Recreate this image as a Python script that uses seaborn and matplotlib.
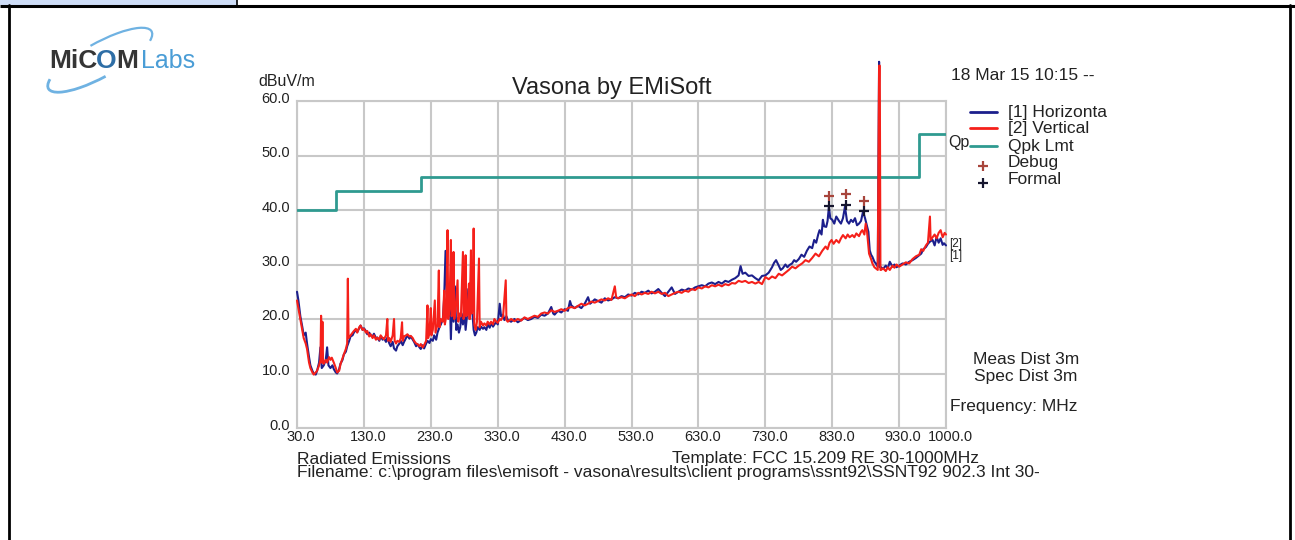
#!/usr/bin/env python3
# plot.py - radiated emissions scan (Vasona style) recreated with seaborn

import matplotlib

matplotlib.use("Agg")
import matplotlib.pyplot as plt
import matplotlib.transforms as mtransforms
from matplotlib.patches import Arc, Rectangle
import seaborn as sns

sns.set_theme(style="white")
plt.rcParams["font.family"] = ["Liberation Sans", "DejaVu Sans"]

# ---- data ------------------------------------------------------------------
h_freq = [30, 32, 35, 38, 40, 43, 45, 48, 50, 53, 55, 58, 60, 63, 65, 67, 70, 73, 75, 77,
          80, 83, 85, 88, 90, 93, 95, 98, 100, 103, 105, 108, 110, 113, 115, 118, 120, 123,
          125, 128, 130, 133, 135, 138, 140, 143, 145, 148, 150, 153, 155, 158, 160, 163,
          165, 168, 170, 173, 175, 178, 180, 183, 185, 188, 190, 193, 195, 198, 200, 203,
          205, 208, 210, 213, 215, 218, 220, 223, 225, 228, 230, 233, 235, 238, 240, 243,
          245, 248, 250, 252, 254, 256, 258, 260, 262, 264, 266, 268, 270, 272, 274, 276,
          278, 280, 282, 284, 286, 288, 290, 292, 294, 296, 298, 300, 303, 305, 308, 310,
          313, 315, 318, 320, 323, 325, 328, 330, 333, 335, 338, 340, 343, 345, 350, 355,
          360, 365, 370, 375, 380, 385, 390, 395, 400, 405, 410, 413, 415, 420, 425, 430,
          435, 438, 440, 445, 450, 455, 460, 465, 468, 470, 475, 480, 485, 490, 495, 500,
          505, 510, 515, 520, 525, 530, 535, 540, 545, 550, 555, 560, 565, 570, 575, 580,
          585, 590, 595, 600, 605, 610, 615, 620, 625, 630, 635, 640, 645, 650, 655, 660,
          665, 670, 675, 680, 685, 690, 693, 696, 700, 705, 710, 715, 720, 725, 730, 735,
          740, 743, 746, 750, 753, 756, 760, 763, 766, 770, 773, 776, 780, 784, 788, 792,
          796, 800, 803, 806, 809, 811, 814, 816, 818, 821, 823, 825, 827, 830, 833, 836,
          840, 843, 846, 849, 852, 855, 858, 861, 864, 867, 870, 873, 876, 879, 882, 884,
          886, 888, 890, 893, 895, 898, 900, 901, 903, 906, 910, 913, 916, 920, 923, 926,
          930, 935, 940, 945, 950, 955, 960, 963, 966, 970, 973, 976, 980, 983, 986, 989,
          992, 995, 997, 1000]
h_level = [25.0, 23.5, 20.5, 18.5, 17.0, 17.5, 15.5, 13.0, 11.5, 10.5, 10.0, 9.8, 10.5, 12.0,
           14.8, 11.0, 11.5, 12.5, 14.8, 11.5, 11.0, 11.5, 10.8, 10.2, 10.0, 10.8, 11.8, 12.5,
           13.5, 14.0, 15.0, 16.0, 16.8, 17.0, 17.5, 18.0, 17.6, 18.3, 18.8, 18.0, 18.3, 17.8,
           17.2, 17.5, 17.0, 16.8, 17.3, 16.5, 16.6, 16.0, 16.8, 16.2, 16.5, 15.8, 16.6, 15.5,
           15.0, 15.8, 14.6, 14.2, 15.0, 15.5, 16.0, 15.2, 15.8, 16.5, 17.0, 16.4, 16.8, 16.2,
           15.8, 15.0, 15.4, 14.8, 14.5, 15.2, 14.6, 15.5, 16.0, 15.6, 16.3, 16.0, 17.0, 16.2,
           17.5, 18.5, 19.0, 20.0, 24.0, 32.5, 25.0, 20.5, 26.0, 16.3, 25.0, 19.5, 26.0, 18.0,
           19.0, 17.5, 18.5, 21.0, 19.0, 21.5, 18.0, 20.5, 25.5, 20.0, 26.5, 21.5, 18.0, 17.0,
           17.5, 18.5, 18.0, 18.6, 18.2, 18.5, 18.0, 19.0, 18.4, 19.2, 18.6, 19.0, 19.5, 19.0,
           22.8, 20.5, 20.8, 19.8, 20.5, 19.8, 19.5, 20.0, 19.4, 19.8, 20.2, 19.8, 20.0, 20.4,
           20.2, 20.8, 20.6, 21.0, 22.2, 21.0, 20.8, 21.5, 21.2, 21.8, 21.5, 23.3, 22.5, 22.0,
           22.4, 22.0, 22.8, 24.0, 22.8, 23.0, 23.6, 23.3, 23.0, 23.8, 23.4, 23.6, 24.0, 23.8,
           24.2, 24.0, 24.5, 24.3, 24.8, 24.5, 25.0, 24.8, 25.2, 24.7, 25.0, 25.5, 24.8, 24.2,
           25.0, 25.8, 24.6, 25.0, 25.4, 25.2, 25.6, 25.4, 25.8, 26.0, 26.2, 26.0, 26.5, 26.7,
           26.4, 26.8, 26.5, 27.0, 26.8, 27.2, 27.5, 28.0, 29.7, 28.3, 28.5, 27.9, 28.0, 27.5,
           27.1, 27.9, 28.0, 28.5, 29.5, 30.3, 30.8, 29.8, 29.0, 29.3, 30.0, 29.5, 29.9, 30.2,
           30.8, 30.5, 31.0, 31.8, 31.4, 32.5, 33.3, 33.0, 34.5, 34.0, 35.5, 36.3, 35.5, 38.2,
           37.0, 36.9, 38.0, 40.6, 38.5, 38.2, 37.5, 38.8, 38.0, 37.5, 38.5, 40.6, 38.0, 37.5,
           38.2, 37.8, 38.5, 37.2, 37.5, 38.0, 39.7, 38.5, 37.0, 36.0, 32.6, 31.8, 31.4, 30.5,
           30.2, 29.6, 67.2, 29.5, 29.5, 29.2, 29.8, 29.3, 30.5, 29.6, 30.0, 29.5, 29.8, 30.2,
           30.0, 30.5, 30.8, 31.2, 31.7, 32.0, 32.8, 33.2, 33.8, 34.2, 34.5, 33.5, 35.1, 34.0,
           34.8, 33.6, 33.9, 33.5]

v_freq = [30, 32, 35, 38, 40, 43, 45, 48, 50, 53, 55, 58, 60, 63, 65, 66, 67, 68, 69, 70,
          73, 75, 78, 80, 82, 85, 88, 90, 93, 95, 98, 100, 103, 105, 106, 107, 110, 113, 115,
          118, 120, 123, 125, 128, 130, 133, 135, 138, 140, 143, 145, 148, 150, 153, 155, 158,
          160, 163, 165, 166, 168, 170, 173, 175, 176, 178, 180, 183, 185, 187, 188, 190, 193,
          195, 198, 200, 203, 205, 208, 210, 213, 215, 218, 220, 223, 225, 226, 228, 230, 231,
          233, 236, 237, 240, 242, 243, 245, 248, 250, 251, 253, 255, 256, 258, 260, 261, 263,
          264, 265, 267, 270, 271, 273, 275, 278, 279, 281, 282, 283, 285, 287, 288, 290, 291,
          293, 294, 295, 297, 299, 302, 303, 305, 308, 310, 313, 315, 318, 320, 323, 325, 328,
          330, 333, 335, 338, 342, 343, 345, 350, 355, 360, 365, 370, 375, 380, 385, 390, 395,
          400, 405, 410, 415, 420, 425, 430, 435, 440, 445, 450, 455, 460, 465, 470, 475, 480,
          485, 490, 495, 500, 505, 507, 510, 515, 520, 525, 530, 535, 540, 545, 550, 555, 560,
          565, 570, 575, 580, 585, 590, 595, 600, 605, 610, 615, 620, 625, 630, 635, 640, 645,
          650, 655, 660, 665, 670, 675, 680, 685, 690, 695, 700, 705, 710, 715, 720, 725, 730,
          735, 740, 745, 750, 755, 760, 765, 770, 775, 780, 785, 790, 795, 800, 805, 810, 815,
          820, 823, 826, 829, 832, 836, 840, 843, 846, 850, 853, 856, 860, 863, 866, 870, 873,
          875, 878, 880, 882, 885, 888, 890, 893, 895, 898, 900, 901, 902, 903, 906, 910, 913,
          916, 920, 923, 926, 930, 935, 940, 945, 950, 955, 960, 963, 966, 970, 973, 976, 977,
          980, 983, 986, 989, 992, 995, 998, 1000]
v_level = [23.4, 22.0, 20.0, 17.8, 16.5, 15.5, 14.5, 12.0, 11.0, 10.2, 9.8, 10.2, 10.5, 11.5,
           12.5, 20.6, 12.0, 19.5, 12.0, 11.8, 12.5, 12.0, 13.0, 12.5, 12.9, 12.0, 11.0, 10.2,
           10.5, 11.7, 12.8, 13.5, 14.5, 15.5, 27.4, 16.5, 17.0, 17.5, 17.8, 18.2, 17.5, 18.5,
           18.8, 18.0, 18.2, 17.5, 17.8, 16.8, 17.2, 16.5, 17.0, 16.2, 16.6, 16.2, 17.0, 16.5,
           16.3, 17.0, 20.0, 16.0, 16.5, 15.8, 17.0, 20.0, 16.0, 15.5, 16.0, 15.8, 16.5, 19.4,
           16.0, 16.8, 17.0, 17.2, 16.8, 16.9, 16.5, 16.0, 15.5, 15.4, 15.0, 15.4, 14.8, 15.2,
           16.0, 22.5, 16.5, 17.5, 22.0, 17.0, 18.0, 23.4, 17.5, 19.0, 28.9, 18.5, 20.0, 19.5,
           25.2, 19.0, 20.5, 36.3, 20.0, 22.0, 34.5, 20.5, 21.0, 32.3, 20.0, 21.5, 27.1, 19.5,
           21.0, 20.5, 32.3, 20.0, 22.0, 31.7, 20.5, 21.0, 26.5, 20.0, 32.6, 21.0, 22.0, 36.6,
           19.0, 18.0, 19.5, 31.1, 18.5, 19.5, 18.8, 19.2, 18.8, 19.5, 19.0, 19.5, 19.0, 20.0,
           19.5, 19.3, 20.0, 19.8, 20.5, 27.1, 19.8, 19.5, 20.0, 19.6, 20.0, 19.7, 20.3, 20.0,
           20.3, 20.6, 20.4, 21.0, 21.2, 21.0, 21.6, 21.3, 21.5, 21.8, 21.5, 22.0, 22.2, 22.0,
           22.4, 22.8, 22.5, 22.8, 23.2, 23.0, 23.3, 23.6, 23.4, 23.8, 23.5, 26.0, 24.0, 23.8,
           24.0, 23.8, 24.2, 24.5, 24.2, 24.8, 24.5, 24.8, 24.6, 25.0, 24.7, 25.0, 24.6, 24.8,
           24.2, 24.5, 24.8, 25.0, 24.8, 25.2, 25.0, 25.5, 25.3, 25.8, 25.6, 26.0, 25.8, 26.2,
           26.0, 26.3, 26.0, 26.4, 26.2, 26.6, 26.5, 27.0, 26.8, 27.0, 26.6, 26.8, 26.5, 26.8,
           26.4, 27.7, 27.3, 27.8, 27.5, 28.3, 28.0, 28.5, 29.0, 29.6, 29.3, 29.8, 30.2, 30.8,
           30.5, 31.2, 32.0, 31.5, 32.5, 33.3, 32.8, 34.0, 34.5, 33.8, 34.5, 34.0, 34.8, 35.4,
           34.8, 35.5, 35.0, 35.4, 35.0, 35.7, 35.2, 36.0, 36.3, 35.5, 37.5, 36.0, 32.0, 31.0,
           30.2, 29.5, 29.3, 29.0, 66.5, 66.5, 29.0, 29.0, 29.3, 28.8, 29.5, 29.0, 29.8, 29.4,
           30.0, 29.6, 30.0, 30.4, 30.2, 31.0, 31.5, 31.8, 32.8, 32.5, 33.5, 34.0, 38.8, 34.5,
           35.0, 35.5, 34.8, 35.8, 36.3, 35.0, 35.8, 35.5]

# quasi-peak limit, FCC 15.209 @ 3 m (step changes)
lim_freq = [30, 88, 216, 960, 1000]
lim_level = [40.0, 43.5, 46.0, 54.0, 54.0]

# peak markers
debug_freq = [825, 850, 877]
debug_level = [42.6, 42.9, 41.7]
formal_freq = [825, 850, 877]
formal_level = [40.7, 40.9, 39.8]

x_ticks = [30, 130, 230, 330, 430, 530, 630, 730, 830, 930, 1000]
y_ticks = [0, 10, 20, 30, 40, 50, 60]

# ---- colours ----------------------------------------------------------------
BLUE = "#1c1f8c"
RED = "#f5201a"
TEAL = "#2f9a90"
GRID = "#c8c8c8"
TXT = "#222222"

W, H = 1295, 540
fig = plt.figure(figsize=(W / 100, H / 100), dpi=100)
fig.patch.set_facecolor("white")

# main plot area (pixel box 297..946 x 101..428)
ax = fig.add_axes([297 / W, 1 - 428 / H, (946 - 297) / W, (428 - 101) / H])
ax.set_facecolor("white")

sns.lineplot(x=lim_freq, y=lim_level, ax=ax, color=TEAL, lw=2.0,
             drawstyle="steps-post", estimator=None, sort=False, zorder=3)
sns.lineplot(x=h_freq, y=h_level, ax=ax, color=BLUE, lw=1.5,
             estimator=None, sort=False, zorder=4, clip_on=False)
sns.lineplot(x=v_freq, y=v_level, ax=ax, color=RED, lw=1.5,
             estimator=None, sort=False, zorder=5, clip_on=False)
sns.scatterplot(x=debug_freq, y=debug_level, ax=ax, marker="+", color="#a8453c",
                s=55, linewidth=1.6, zorder=6)
sns.scatterplot(x=formal_freq, y=formal_level, ax=ax, marker="+", color="#15152e",
                s=55, linewidth=1.6, zorder=6)

ax.set_xlim(30, 1000)
ax.set_ylim(0, 60)
ax.set_xticks(x_ticks)
ax.set_xticklabels([f"{t:.1f}" for t in x_ticks])
ax.set_yticks(y_ticks)
ax.set_yticklabels([f"{t:.1f}" for t in y_ticks])
ax.set_xlabel("")
ax.set_ylabel("")
ax.grid(True, color=GRID, lw=1.5)
ax.set_axisbelow(True)
for sp in ax.spines.values():
    sp.set_color(GRID)
    sp.set_linewidth(1.5)
ax.tick_params(axis="both", length=0, labelsize=10.5, labelcolor=TXT)
ax.tick_params(axis="x", pad=1.5)
ax.tick_params(axis="y", pad=5)
# labels in the original sit a little right / above their gridlines
for lab in ax.get_xticklabels():
    lab.set_transform(lab.get_transform() + mtransforms.ScaledTranslation(4 / 100, 0, fig.dpi_scale_trans))
for lab in ax.get_yticklabels():
    lab.set_transform(lab.get_transform() + mtransforms.ScaledTranslation(0, 4 / 100, fig.dpi_scale_trans))

# ---- overlay in pixel coordinates for page furniture and captions ----------
deco = fig.add_axes([0, 0, 1, 1], zorder=10)
deco.set_xlim(0, W)
deco.set_ylim(H, 0)
deco.axis("off")
deco.patch.set_alpha(0)

# page frame / table cell
deco.add_patch(Rectangle((0, 0), 237, 5, facecolor="#cddcf6", edgecolor="none"))
deco.plot([0, W], [5.5, 5.5], color="black", lw=2.2, solid_capstyle="butt")
deco.plot([237, 237], [0, 5.5], color="black", lw=1.2)
deco.plot([8.5, 8.5], [5, H], color="black", lw=2.0)
deco.plot([1290, 1290], [5, H], color="black", lw=2.0)

# logo: swoosh (two ends of a tilted ellipse) + wordmark
deco.add_patch(Arc((100, 60), 118, 34, angle=-29, theta1=100, theta2=188,
                   color="#6fb2e2", lw=2.0))
deco.add_patch(Arc((100, 60), 118, 34, angle=-29, theta1=-95, theta2=8,
                   color="#6fb2e2", lw=1.6))
deco.text(49, 68, "MiC", fontsize=19, weight="bold", color="#353535", va="baseline")
deco.text(96, 68, "O", fontsize=19, weight="bold", color="#2e6ea6", va="baseline")
deco.text(116, 68, "M", fontsize=19, weight="bold", color="#353535", va="baseline")
deco.text(141, 68, "Labs", fontsize=18, color="#4a9dd6", va="baseline")

# chart captions
deco.text(258, 82, "dBuV/m", fontsize=11.5, color=TXT, va="center")
deco.text(612, 88, "Vasona by EMiSoft", fontsize=17, color=TXT, ha="center", va="center")
deco.text(951, 76, "18 Mar 15 10:15 --", fontsize=12.5, color=TXT, va="center")

# legend
leg = [("[1] Horizonta", BLUE, 112), ("[2] Vertical", RED, 128), ("Qpk Lmt", TEAL, 146)]
for label, col, yy in leg:
    deco.plot([970, 997], [yy, yy], color=col, lw=2.0)
    deco.text(1008, yy, label, fontsize=12.5, color=TXT, va="center")
deco.scatter([983], [166], marker="+", s=45, color="#a8453c", linewidths=1.6)
deco.text(1008, 162, "Debug", fontsize=12.5, color=TXT, va="center")
deco.scatter([983], [183], marker="+", s=45, color="#15152e", linewidths=1.6)
deco.text(1008, 179, "Formal", fontsize=12.5, color=TXT, va="center")
deco.text(948, 143, "Qp", fontsize=11.5, color=TXT, va="center")

# trace end labels
deco.text(949, 244, "[2]", fontsize=8.5, color=TXT, va="center")
deco.text(949, 256, "[1]", fontsize=8.5, color=TXT, va="center")

deco.text(1026, 359, "Meas Dist 3m", fontsize=12.5, color=TXT, ha="center", va="center")
deco.text(1026, 376, "Spec Dist 3m", fontsize=12.5, color=TXT, ha="center", va="center")
deco.text(950, 407, "Frequency: MHz", fontsize=12.5, color=TXT, va="center")

deco.text(297, 459, "Radiated Emissions", fontsize=12.5, color=TXT, va="center")
deco.text(672, 459, "Template: FCC 15.209 RE 30-1000MHz", fontsize=12.5, color=TXT, va="center")
deco.text(297, 473,
          r"Filename: c:\program files\emisoft - vasona\results\client programs\ssnt92\SSNT92 902.3 Int 30-",
          fontsize=12.5, color=TXT, va="center")

fig.savefig("out.png", dpi=100)
plt.close(fig)
